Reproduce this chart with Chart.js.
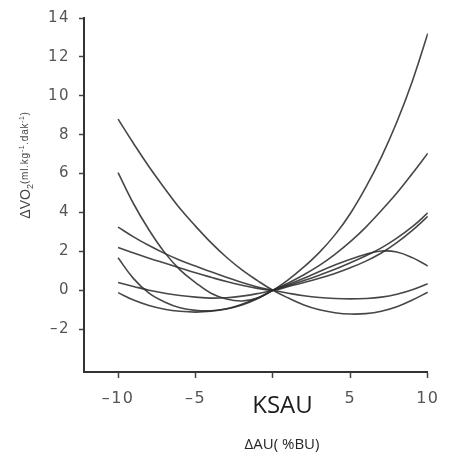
<!DOCTYPE html>
<html>
<head>
<meta charset="utf-8">
<script src="https://cdn.jsdelivr.net/npm/chart.js@4/dist/chart.umd.min.js"></script>
<style>
  html, body { margin: 0; padding: 0; background: #ffffff; }
  #wrap { width: 449px; height: 459px; position: relative; }
</style>
</head>
<body>
<div id="wrap"><canvas id="chart" width="449" height="459"></canvas></div>
<script>
// Stride-length change (% of freely chosen stride) on the x axis
const strideChange = [-10, -9, -8, -7, -6, -5, -4, -3, -2, -1, 0, 1, 2, 3, 4, 5, 6, 7, 8, 9, 10];

// Change in oxygen uptake for each runner (ml.kg-1.dak-1)
const runner1 = [8.8, 7.55, 6.35, 5.25, 4.2, 3.3, 2.45, 1.7, 1.05, 0.5, 0, -0.4, -0.75, -1.0, -1.15, -1.22, -1.2, -1.08, -0.85, -0.5, -0.1];
const runner2 = [6.05, 4.45, 3.1, 1.95, 1.05, 0.4, -0.15, -0.45, -0.55, -0.4, 0, 0.38, 0.8, 1.28, 1.85, 2.5, 3.25, 4.1, 5.0, 6.0, 7.05];
const runner3 = [3.25, 2.75, 2.3, 1.9, 1.55, 1.25, 0.95, 0.67, 0.4, 0.17, 0, -0.15, -0.28, -0.37, -0.42, -0.44, -0.42, -0.35, -0.2, 0.03, 0.34];
const runner4 = [2.2, 1.92, 1.65, 1.4, 1.15, 0.9, 0.67, 0.45, 0.26, 0.1, 0, 0.2, 0.4, 0.62, 0.87, 1.16, 1.5, 1.92, 2.45, 3.08, 3.8];
const runner5 = [1.67, 0.6, -0.15, -0.6, -0.9, -1.03, -1.05, -0.95, -0.72, -0.4, 0, 0.55, 1.2, 1.95, 2.85, 3.95, 5.3, 6.85, 8.65, 10.75, 13.2];
const runner6 = [0.4, 0.2, 0.0, -0.15, -0.27, -0.35, -0.4, -0.38, -0.3, -0.17, 0, 0.25, 0.5, 0.78, 1.08, 1.42, 1.78, 2.18, 2.68, 3.27, 3.98];
const runner7 = [-0.12, -0.5, -0.78, -0.97, -1.08, -1.12, -1.08, -0.96, -0.75, -0.43, 0, 0.3, 0.62, 0.97, 1.3, 1.6, 1.85, 2.02, 1.97, 1.68, 1.25];

const runners = [runner1, runner2, runner3, runner4, runner5, runner6, runner7];

// Tick positions on each axis (the x label at 0 gives way to the KSAU caption)
const xTickValues = [-10, -5, 0, 5, 10];
const yTickValues = [-2, 0, 2, 4, 6, 8, 10, 12, 14];

const lineColor = 'rgba(45,45,45,0.88)';

const datasets = runners.map((vals) => ({
  data: strideChange.map((x, i) => ({ x: x, y: vals[i] })),
  borderColor: lineColor,
  borderWidth: 1.6,
  pointRadius: 0,
  tension: 0.4,
  fill: false
}));

// Negative tick labels use a short dash
const dashLabel = (v) => String(v).replace('-', '\u2013');

// Axis titles and the KSAU caption, drawn after the chart
const captions = {
  id: 'captions',
  beforeDraw(chart) {
    chart.ctx.letterSpacing = '1.5px';
  },
  beforeDatasetsDraw(chart) {
    chart.ctx.letterSpacing = '0px';
  },
  afterDraw(chart) {
    const ctx = chart.ctx;
    ctx.save();
    ctx.letterSpacing = '0px';

    // Rotated y title: ΔVO2(ml.kg-1.dak-1)
    ctx.translate(25, 165);
    ctx.rotate(-Math.PI / 2);
    ctx.fillStyle = '#444';
    ctx.textBaseline = 'alphabetic';
    ctx.textAlign = 'left';
    const parts = [
      { t: '\u0394VO', f: '14px "Liberation Sans"', dy: 0, ls: '0px' },
      { t: '2', f: '9px "Liberation Sans"', dy: 3, ls: '0px' },
      { t: '(ml.kg', f: '10px "Liberation Sans"', dy: -2, ls: '0.8px' },
      { t: '-1', f: '7px "Liberation Sans"', dy: -6, ls: '0.5px' },
      { t: '.dak', f: '10px "Liberation Sans"', dy: -2, ls: '0.8px' },
      { t: '-1', f: '7px "Liberation Sans"', dy: -6, ls: '0.5px' },
      { t: ')', f: '10px "Liberation Sans"', dy: -2, ls: '0.8px' }
    ];
    let total = 0;
    parts.forEach(p => { ctx.font = p.f; ctx.letterSpacing = p.ls; p.w = ctx.measureText(p.t).width; total += p.w; });
    let fx = -total / 2;
    parts.forEach(p => {
      ctx.font = p.f;
      ctx.letterSpacing = p.ls;
      ctx.fillText(p.t, fx, 4.5 + p.dy);
      fx += p.w;
    });
    ctx.restore();

    ctx.save();
    ctx.letterSpacing = '0px';
    ctx.textAlign = 'center';
    ctx.textBaseline = 'alphabetic';
    ctx.fillStyle = '#1c1c1c';
    ctx.font = '24px "Open Sans"';
    ctx.fillText('KSAU', 282.5, 413);
    ctx.fillStyle = '#262626';
    ctx.font = '15px "Open Sans"';
    ctx.fillText('\u0394AU( %BU)', 282, 449);
    ctx.restore();
  }
};

new Chart(document.getElementById('chart'), {
  type: 'line',
  data: { datasets: datasets },
  options: {
    responsive: false,
    animation: false,
    devicePixelRatio: 1,
    layout: { padding: { top: 18, right: 12, left: 0, bottom: 0 } },
    plugins: { legend: { display: false }, tooltip: { enabled: false } },
    scales: {
      x: {
        type: 'linear',
        position: 'bottom',
        min: -12.2,
        max: 10,
        afterBuildTicks(scale) { scale.ticks = xTickValues.map(v => ({ value: v })); },
        afterFit(scale) { scale.height = 87; },
        grid: { display: true, drawOnChartArea: false, drawTicks: true, tickLength: 6, tickColor: '#444', tickWidth: 1.5 },
        border: { display: true, color: '#333', width: 2 },
        ticks: {
          color: '#555',
          font: { family: '"DejaVu Sans"', size: 16 },
          padding: 11,
          maxRotation: 0,
          callback: (v) => (v === 0 ? '' : dashLabel(v))
        }
      },
      y: {
        type: 'linear',
        min: -4.2,
        max: 14,
        afterBuildTicks(scale) { scale.ticks = yTickValues.map(v => ({ value: v })); },
        afterFit(scale) { scale.width = 84; },
        grid: { display: true, drawOnChartArea: false, drawTicks: true, tickLength: 5, tickColor: '#444', tickWidth: 1.5 },
        border: { display: true, color: '#333', width: 2 },
        ticks: {
          color: '#555',
          font: { family: '"DejaVu Sans"', size: 15 },
          padding: 9,
          callback: dashLabel
        }
      }
    }
  },
  plugins: [captions]
});
</script>
</body>
</html>
